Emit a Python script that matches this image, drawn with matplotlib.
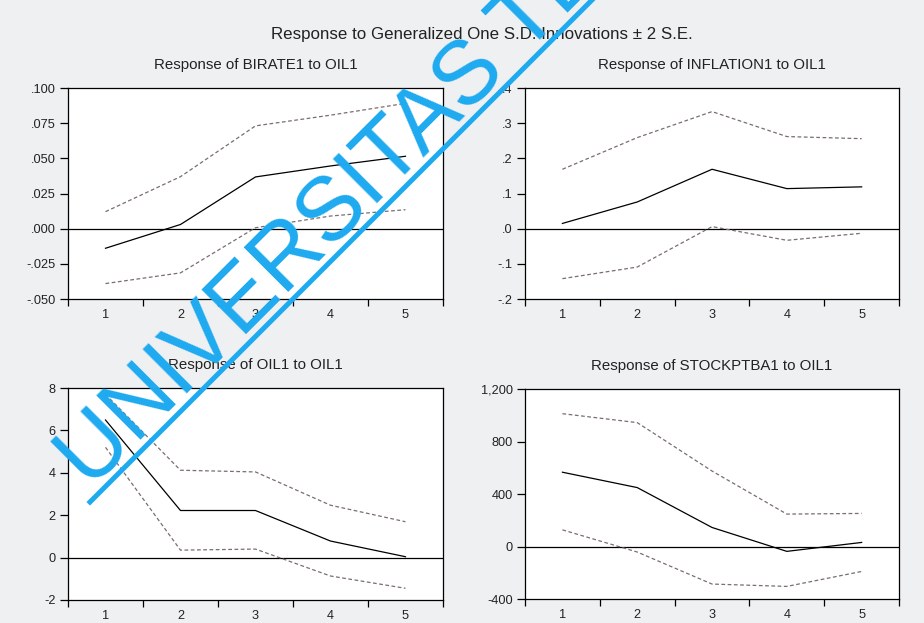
import matplotlib
matplotlib.use("Agg")
import matplotlib.pyplot as plt
from matplotlib.lines import Line2D

plt.rcParams['font.family'] = ['Liberation Sans', 'DejaVu Sans']

# horizon (periods after the shock)
periods = [1, 2, 3, 4, 5]

# Response of BIRATE1 to OIL1
birate_resp = [-0.0139, 0.0030, 0.0368, 0.0446, 0.0515]
birate_upper = [0.0121, 0.0370, 0.0731, 0.0807, 0.0891]
birate_lower = [-0.0390, -0.0314, 0.0007, 0.0090, 0.0135]

# Response of INFLATION1 to OIL1
inflation_resp = [0.015, 0.076, 0.169, 0.114, 0.119]
inflation_upper = [0.169, 0.259, 0.333, 0.262, 0.256]
inflation_lower = [-0.142, -0.109, 0.006, -0.033, -0.013]

# Response of OIL1 to OIL1
oil_resp = [6.49, 2.22, 2.22, 0.78, 0.04]
oil_upper = [7.70, 4.12, 4.04, 2.47, 1.69]
oil_lower = [5.20, 0.35, 0.40, -0.87, -1.45]

# Response of STOCKPTBA1 to OIL1
stock_resp = [566, 449, 145, -37, 31]
stock_upper = [1012, 944, 575, 247, 252]
stock_lower = [127, -42, -286, -304, -190]

birate_ticks = [-0.05, -0.025, 0.0, 0.025, 0.05, 0.075, 0.1]
birate_labels = ['-.050', '-.025', '.000', '.025', '.050', '.075', '.100']
inflation_ticks = [-0.2, -0.1, 0.0, 0.1, 0.2, 0.3, 0.4]
inflation_labels = ['-.2', '-.1', '.0', '.1', '.2', '.3', '.4']
oil_ticks = [-2, 0, 2, 4, 6, 8]
oil_labels = ['-2', '0', '2', '4', '6', '8']
stock_ticks = [-400, 0, 400, 800, 1200]
stock_labels = ['-400', '0', '400', '800', '1,200']

main_title = 'Response to Generalized One S.D. Innovations \u00b1 2 S.E.'
watermark = 'UNIVERSITAS TERBUKA'

panels = [
    ('Response of BIRATE1 to OIL1', birate_resp, birate_upper, birate_lower,
     birate_ticks, birate_labels, [0.0736, 0.520, 0.4058, 0.3387]),
    ('Response of INFLATION1 to OIL1', inflation_resp, inflation_upper, inflation_lower,
     inflation_ticks, inflation_labels, [0.5682, 0.520, 0.4048, 0.3387]),
    ('Response of OIL1 to OIL1', oil_resp, oil_upper, oil_lower,
     oil_ticks, oil_labels, [0.0736, 0.037, 0.4058, 0.3402]),
    ('Response of STOCKPTBA1 to OIL1', stock_resp, stock_upper, stock_lower,
     stock_ticks, stock_labels, [0.5682, 0.0385, 0.4048, 0.3371]),
]

fig = plt.figure(figsize=(9.24, 6.23), dpi=100, facecolor='#eef0f1')
text_col = '#222222'
band_col = '#7a6e6e'

for title, resp, upper, lower, yt, yl, rect in panels:
    ax = fig.add_axes(rect)
    ax.set_facecolor('white')
    ax.axhline(0, color='black', lw=0.9)
    ax.plot(periods, upper, color=band_col, lw=0.9, ls=(0, (3, 2)))
    ax.plot(periods, lower, color=band_col, lw=0.9, ls=(0, (3, 2)))
    ax.plot(periods, resp, color='black', lw=0.9)
    ax.set_xlim(0.5, 5.5)
    ax.set_ylim(yt[0], yt[-1])
    ax.set_xticks(periods)
    ax.set_xticklabels([str(p) for p in periods])
    ax.set_xticks([p - 0.5 for p in periods] + [5.5], minor=True)
    ax.tick_params(axis='x', which='major', length=0, pad=7.5,
                   labelsize=9.2, labelcolor=text_col)
    ax.tick_params(axis='x', which='minor', length=5, width=0.9, direction='out')
    ax.set_yticks(yt)
    ax.set_yticklabels(yl)
    ax.tick_params(axis='y', length=6, width=0.9, pad=3,
                   labelsize=9.2, labelcolor=text_col)
    for sp in ax.spines.values():
        sp.set_linewidth(0.9)
    ax.set_title(title, fontsize=10.8, color=text_col, pad=14)

fig.text(0.521, 0.9454, main_title, ha='center', va='center',
         fontsize=12.2, color=text_col)

# cyan watermark over the whole figure
wm_col = '#1eaaf0'
fig.text(0.0974, 0.2135, watermark, rotation=45, rotation_mode='anchor',
         ha='left', va='baseline', fontsize=64.5, color=wm_col, zorder=10)
fig.add_artist(Line2D([0.0974, 0.671], [0.1942, 1.045], transform=fig.transFigure,
                      color=wm_col, lw=3.6, zorder=10))

fig.savefig('out.png', dpi=100, facecolor=fig.get_facecolor())
